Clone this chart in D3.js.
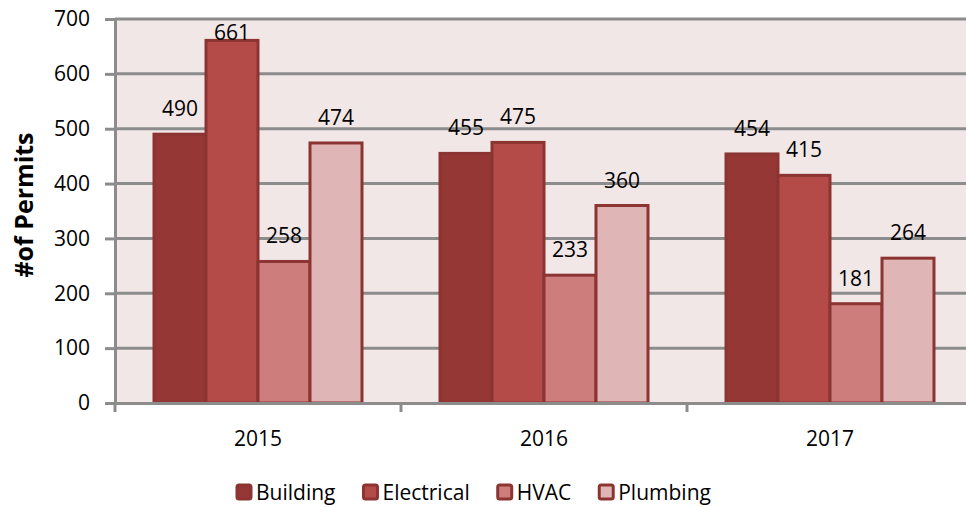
<!DOCTYPE html>
<html>
<head>
<meta charset="utf-8">
<script src="https://cdn.jsdelivr.net/npm/d3@7"></script>
<style>
  html, body { margin: 0; padding: 0; background: #fff; overflow: hidden; }
  svg { display: block; font-family: "Open Sans", sans-serif; }
</style>
</head>
<body>
<script>
const YEARS = ['2015', '2016', '2017'];
const SERIES = ['Building', 'Electrical', 'HVAC', 'Plumbing'];
const BUILDING = [490, 455, 454];
const ELECTRICAL = [661, 475, 415];
const HVAC = [258, 233, 181];
const PLUMBING = [474, 360, 264];
const Y_TICKS = [0, 100, 200, 300, 400, 500, 600, 700];

const COLORS = ['#953735', '#b44b48', '#cd7d7b', '#e0b5b5'];
const STROKE = '#8c3432';
const GRID = '#8c8c8c';

const [W, H] = [966, 507];
const PLOT = { left: 115, top: 19, right: 973, bottom: 403 };

const values = [BUILDING, ELECTRICAL, HVAC, PLUMBING];
const rows = [];
YEARS.forEach((year, i) => {
    SERIES.forEach((s, j) => rows.push({ year, series: s, value: values[j][i], color: COLORS[j] }));
});

const svg = d3.select('body').append('svg').attr('width', W).attr('height', H);

// plot background
svg.append('rect')
    .attr('x', PLOT.left).attr('y', PLOT.top)
    .attr('width', PLOT.right - PLOT.left).attr('height', PLOT.bottom - PLOT.top)
    .attr('fill', '#f2e7e7');

const x0 = d3.scaleBand().domain(YEARS).range([PLOT.left, PLOT.right]);
const x1 = d3.scaleBand().domain(SERIES).range([0, x0.bandwidth()]).paddingOuter(0.75).paddingInner(0);
const y = d3.scaleLinear().domain([0, 700]).range([PLOT.bottom, PLOT.top]);

// gridlines
svg.append('g')
    .selectAll('line')
    .data(Y_TICKS.filter(d => d > 0))
    .enter().append('line')
    .attr('x1', PLOT.left).attr('x2', PLOT.right)
    .attr('y1', d => y(d)).attr('y2', d => y(d))
    .attr('stroke', GRID).attr('stroke-width', 3);

// y axis
const yAxis = svg.append('g')
    .attr('transform', 'translate(' + PLOT.left + ',0)')
    .call(d3.axisLeft(y).tickValues(Y_TICKS).tickSize(10).tickSizeOuter(0).tickPadding(15));
yAxis.select('.domain').attr('stroke', GRID).attr('stroke-width', 3);
yAxis.selectAll('.tick line').attr('stroke', GRID).attr('stroke-width', 3);
yAxis.selectAll('.tick text').style('font-size', '21px').style('font-family', '"Open Sans", sans-serif').attr('fill', '#000');

// bars
svg.append('g')
    .selectAll('rect')
    .data(rows)
    .enter().append('rect')
    .attr('x', d => x0(d.year) + x1(d.series))
    .attr('y', d => y(d.value))
    .attr('width', x1.bandwidth())
    .attr('height', d => y(0) - y(d.value))
    .attr('fill', d => d.color)
    .attr('stroke', STROKE)
    .attr('stroke-width', 3);

// x axis
const xAxis = svg.append('g')
    .attr('transform', 'translate(0,' + PLOT.bottom + ')')
    .call(d3.axisBottom(x0).tickSize(0).tickSizeOuter(0).tickPadding(28));
xAxis.select('.domain').attr('stroke', GRID).attr('stroke-width', 3);
xAxis.selectAll('.tick text').style('font-size', '21px').style('font-family', '"Open Sans", sans-serif').attr('fill', '#000');
xAxis.selectAll('.sep')
    .data(YEARS)
    .enter().append('line')
    .attr('class', 'sep')
    .attr('x1', d => x0(d)).attr('x2', d => x0(d))
    .attr('y1', 0).attr('y2', 9)
    .attr('stroke', GRID).attr('stroke-width', 3);

// data labels
svg.append('g')
    .selectAll('text')
    .data(rows)
    .enter().append('text')
    .attr('x', d => x0(d.year) + x1(d.series) + x1.bandwidth() / 2)
    .attr('y', d => Math.max(y(d.value) - 18, PLOT.top + 21))
    .attr('text-anchor', 'middle')
    .style('font-size', '21px')
    .text(d => d.value);

// y title
svg.append('text')
    .attr('transform', 'translate(33,' + 205 + ') rotate(-90)')
    .attr('text-anchor', 'middle')
    .style('font-size', '25px')
    .style('font-weight', 'bold')
    .text('#of Permits');

// legend
const legend = svg.append('g').attr('transform', 'translate(236,0)');
let lx = 0;
SERIES.forEach((s, j) => {
    const g = legend.append('g').attr('transform', 'translate(' + lx + ',0)');
    g.append('rect')
        .attr('x', 1).attr('y', 485).attr('width', 14).attr('height', 14)
        .attr('rx', 2)
        .attr('fill', COLORS[j]).attr('stroke', STROKE).attr('stroke-width', 3);
    const t = g.append('text')
        .attr('x', 20).attr('y', 500)
        .style('font-size', '21px')
        .text(s);
    lx += 20 + t.node().getComputedTextLength() + 27;
});
</script>
</body>
</html>
